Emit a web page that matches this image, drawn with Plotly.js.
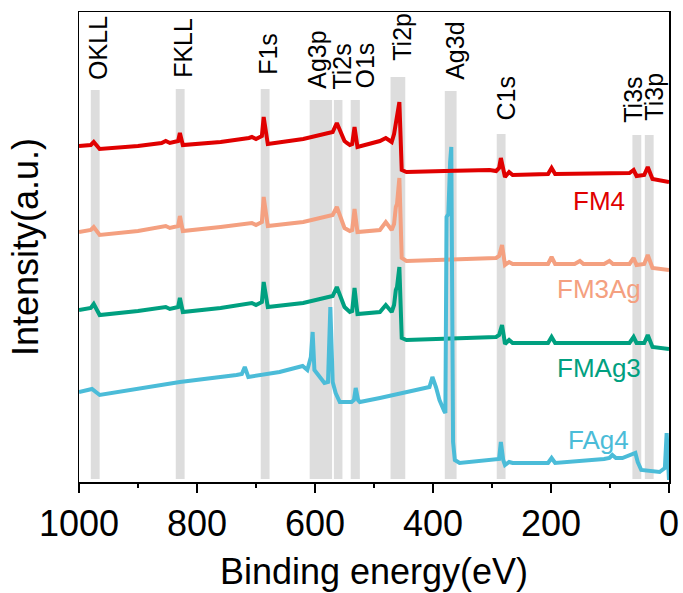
<!DOCTYPE html>
<html>
<head>
<meta charset="utf-8">
<script src="https://cdn.plot.ly/plotly-3.0.1.min.js"></script>
<style>html,body{margin:0;padding:0;background:#fff;}#chart{width:683px;height:593px;}</style>
</head>
<body>
<div id="chart"></div>
<script>
// ---- Data (binding energy in eV, intensity in a.u.) ----
var energyFM4 = [1000, 980, 975, 965, 900, 860, 853, 846, 832, 829, 824, 760, 712, 707, 700, 690, 687, 680, 620, 581, 570, 563, 550, 546, 541, 537, 533, 528, 515, 490, 480, 470, 466, 463, 461, 457, 453, 445, 380, 304, 293, 288, 285, 280, 278, 271, 265, 205, 199, 193, 100, 67, 60, 55, 42, 36, 28, 15, 0];
var intensityFM4 = [336, 337, 340, 333, 336, 339, 341, 339, 341, 349, 337, 340, 344, 345, 343, 346, 365, 338, 343, 349, 350, 359, 341, 339, 337, 338, 355, 335, 337, 341, 344, 340, 348, 360, 362, 380, 312, 310, 311, 312, 311, 314, 324, 312, 305, 310, 307, 308, 314, 308, 309, 309, 312, 306, 307, 315, 303, 302, 300];

var energyFM3Ag = [1000, 980, 975, 965, 900, 860, 853, 846, 832, 829, 824, 760, 712, 707, 700, 690, 687, 680, 620, 581, 570, 563, 550, 541, 537, 533, 528, 490, 480, 470, 466, 463, 461, 457, 453, 445, 380, 293, 288, 283, 280, 278, 271, 265, 205, 199, 193, 160, 151, 145, 110, 101, 95, 67, 60, 55, 42, 36, 28, 15, 0];
var intensityFM3Ag = [250, 252, 255, 247, 251, 255, 256, 254, 256, 266, 251, 255, 258, 259, 257, 260, 285, 256, 260, 265, 267, 275, 254, 251, 252, 273, 250, 252, 260, 252, 258, 275, 278, 304, 224, 221, 222, 224, 226, 237, 225, 217, 220, 218, 218, 225, 218, 218, 221, 218, 218, 221, 218, 218, 224, 217, 218, 227, 214, 213, 212];

var energyFMAg3 = [1000, 980, 975, 965, 900, 860, 853, 846, 832, 829, 824, 760, 712, 707, 700, 690, 687, 680, 620, 581, 570, 563, 550, 541, 537, 533, 528, 490, 480, 470, 466, 463, 461, 457, 453, 445, 380, 293, 288, 283, 280, 278, 271, 265, 205, 199, 193, 67, 60, 55, 42, 36, 28, 15, 0];
var intensityFMAg3 = [172, 174, 178, 167, 171, 174, 175, 173, 175, 184, 170, 174, 178, 179, 177, 180, 200, 175, 179, 185, 186, 195, 175, 170, 171, 194, 168, 170, 177, 170, 177, 192, 195, 215, 144, 142, 143, 145, 147, 157, 146, 138, 142, 139, 139, 145, 139, 139, 145, 139, 139, 147, 135, 134, 133];

var energyFAg4 = [1000, 978, 965, 900, 829, 733, 724, 719, 713, 660, 621, 613, 607, 604, 601, 584, 578, 574, 570, 565, 558, 538, 534, 531, 527, 524, 490, 406, 401, 395, 389, 381, 379, 377, 374, 371, 369, 366, 363, 355, 293, 288, 285, 281, 278, 271, 265, 205, 199, 193, 110, 101, 96, 90, 79, 67, 57, 53, 47, 16, 7, 4, 0];
var intensityFAg4 = [90, 93, 87, 93, 100, 107, 108, 115, 105, 110, 116, 112, 125, 150, 112, 99, 100, 175, 100, 89, 80, 80, 82, 94, 82, 80, 84, 95, 105, 95, 82, 71, 69, 265, 268, 320, 335, 40, 22, 19, 22, 23, 40, 22, 17, 20, 19, 19, 24, 19, 23, 24, 27, 24, 24, 27, 29, 20, 12, 10, 14, 49, 2];

var seriesNames = ['FM4', 'FM3Ag', 'FMAg3', 'FAg4'];

// Peak assignment bands (eV)
var peakNames = ['OKLL', 'FKLL', 'F1s', 'Ag3p', 'Ti2s', 'O1s', 'Ti2p', 'Ag3d', 'C1s', 'Ti3s', 'Ti3p'];
var bandLow = [965, 821, 677, 571, 553.5, 524, 447, 360, 277, 47, 26];
var bandHigh = [980, 836, 692, 609, 568, 539.5, 472, 380, 292, 62, 41];
var bandTop = [392, 393, 393, 382, 382, 382, 405, 391, 348, 347, 347];
var peakLabelE = [968, 824, 680, 597, 555, 516, 453, 363, 277, 61.5, 26];
var peakLabelBase = [400, 402, 405, 391, 390, 391, 419, 400, 359, 357, 359];

// Series label positions (eV, a.u.)
var seriesLabelE = [119, 119, 119, 119];
var seriesLabelY = [281, 193, 114, 42];

// ---- Styling ----
var colors = {FM4: '#e00000', FM3Ag: '#f4a080', FMAg3: '#00a080', FAg4: '#4bbcd8'};
var FONT = 'Arial, "Liberation Sans", sans-serif';

var seriesData = {
  FM4: [energyFM4, intensityFM4],
  FM3Ag: [energyFM3Ag, intensityFM3Ag],
  FMAg3: [energyFMAg3, intensityFMAg3],
  FAg4: [energyFAg4, intensityFAg4]
};
var drawOrder = ['FM3Ag', 'FMAg3', 'FAg4', 'FM4'];
var traces = drawOrder.map(function (n) {
  return {
    x: seriesData[n][0], y: seriesData[n][1], type: 'scatter', mode: 'lines', name: n,
    line: {color: colors[n], width: 4}, hoverinfo: 'skip'
  };
});

var shapes = peakNames.map(function (p, i) {
  return {type: 'rect', xref: 'x', yref: 'y', x0: bandLow[i], x1: bandHigh[i], y0: 3, y1: bandTop[i],
    fillcolor: '#dddddd', line: {width: 0}, layer: 'below'};
});

var annotations = peakNames.map(function (p, i) {
  return {x: peakLabelE[i], y: peakLabelBase[i], xref: 'x', yref: 'y', text: p, showarrow: false,
    textangle: -90, xanchor: 'center', yanchor: 'bottom', font: {family: FONT, size: 25, color: '#000'}};
});
seriesNames.forEach(function (n, i) {
  annotations.push({x: seriesLabelE[i], y: seriesLabelY[i], xref: 'x', yref: 'y', text: n, showarrow: false,
    xanchor: 'center', yanchor: 'middle', font: {family: FONT, size: 26, color: colors[n]}});
});

var layout = {
  width: 683, height: 593,
  margin: {l: 79, r: 14, t: 12, b: 111},
  paper_bgcolor: '#fff', plot_bgcolor: '#fff',
  showlegend: false,
  font: {family: FONT, color: '#000'},
  xaxis: {
    range: [1000, 0], showgrid: false, zeroline: false,
    showline: true, linecolor: '#000', linewidth: 1.5, mirror: true,
    ticks: 'outside', ticklen: 9, tickwidth: 1.5, tickcolor: '#000',
    tick0: 0, dtick: 200,
    minor: {ticks: 'outside', ticklen: 4, tickwidth: 1.5, tickcolor: '#000', dtick: 100, showgrid: false},
    tickfont: {family: FONT, size: 36, color: '#000'},
    title: {text: 'Binding energy(eV)', font: {family: FONT, size: 36, color: '#000'}, standoff: 16}
  },
  yaxis: {
    range: [0, 470], showgrid: false, zeroline: false,
    showline: true, linecolor: '#000', linewidth: 1.5, mirror: true,
    ticks: '', showticklabels: false,
    title: {text: 'Intensity(a.u.)', font: {family: FONT, size: 36, color: '#000'}, standoff: 28}
  },
  shapes: shapes,
  annotations: annotations
};

Plotly.newPlot('chart', traces, layout, {staticPlot: true, displayModeBar: false});
</script>
</body>
</html>
